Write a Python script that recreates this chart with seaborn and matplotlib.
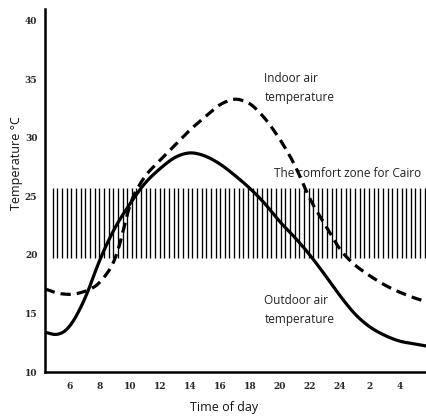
import numpy as np
import pandas as pd
import matplotlib
matplotlib.use("Agg")
import matplotlib.pyplot as plt
import seaborn as sns

# Hours of the day (values past 24 are the early hours of the next day)
hours = [4.33, 5.2, 6, 7, 8, 9, 10, 11, 12, 13, 14, 15, 16, 17, 18, 19, 20,
         21, 22, 23, 24, 25, 26, 27, 28, 29, 29.8]
outdoor_temp = [13.4, 13.1, 13.8, 16.2, 19.7, 22.4, 24.4, 26.2, 27.4, 28.4,
                28.8, 28.5, 27.8, 26.8, 25.7, 24.4, 22.8, 21.5, 20.0, 18.3,
                16.5, 14.9, 13.8, 13.1, 12.6, 12.4, 12.2]

indoor_hours = [4.33, 5.2, 6.2, 7.3, 8, 9, 9.5, 10, 11, 12, 13, 14, 15, 16,
                17, 18, 19, 20, 21, 22, 23, 24, 25, 26, 27, 28, 29, 29.8]
indoor_temp = [17.1, 16.7, 16.6, 17.0, 17.6, 19.4, 21.8, 24.6, 26.8, 28.1,
               29.4, 30.7, 31.8, 32.9, 33.4, 33.0, 31.7, 29.9, 27.7, 24.7,
               22.6, 20.4, 19.1, 18.2, 17.4, 16.8, 16.3, 16.0]

comfort_low, comfort_high = 19.75, 25.7

x_ticks = [6, 8, 10, 12, 14, 16, 18, 20, 22, 24, 26, 28]
x_tick_labels = ["6", "8", "10", "12", "14", "16", "18", "20", "22", "24", "2", "4"]
y_ticks = [10, 15, 20, 25, 30, 35, 40]

sns.set_theme(style="white")
plt.rcParams["font.family"] = ["Open Sans", "DejaVu Sans"]

fig = plt.figure(figsize=(4.27, 4.18), dpi=100)
ax = fig.add_axes([0.1054, 0.110, 0.8946, 0.868])

# Comfort zone drawn as a band of fine vertical strokes
stripe_x = np.arange(4.85, 29.75, 0.31)
ax.vlines(stripe_x, comfort_low, comfort_high, colors="black", linewidth=0.95, zorder=1)


def smooth(hrs, temps, window=0.9):
    """Densely interpolate the readings and soften the corners with a moving average."""
    x = np.asarray(hrs, float)
    y = np.asarray(temps, float)
    step = 0.02
    xs = np.arange(x[0], x[-1] + step / 2, step)
    ys = np.interp(xs, x, y)
    n = int(window / step) | 1
    pad = n // 2
    # extend linearly at both ends so the edges keep their slope
    left = ys[0] - (ys[1] - ys[0]) * np.arange(pad, 0, -1)
    right = ys[-1] + (ys[-1] - ys[-2]) * np.arange(1, pad + 1)
    ext = np.concatenate([left, ys, right])
    kernel = np.ones(n) / n
    ys_s = np.convolve(ext, kernel, mode="valid")
    return pd.DataFrame({"hour": xs, "temp": ys_s})


sns.lineplot(data=smooth(hours, outdoor_temp), x="hour", y="temp", ax=ax,
             color="black", linewidth=2.3, zorder=3, sort=False)
sns.lineplot(data=smooth(indoor_hours, indoor_temp, 0.8), x="hour", y="temp", ax=ax,
             color="black", linewidth=2.3, linestyle=(0, (3.2, 1.9)), zorder=3,
             sort=False)

ax.set_xlim(4.33, 29.8)
ax.set_ylim(10, 41)

for side in ["top", "right"]:
    ax.spines[side].set_visible(False)
for side in ["left", "bottom"]:
    ax.spines[side].set_linewidth(1.8)
    ax.spines[side].set_color("black")

ax.set_xticks(x_ticks)
ax.set_xticklabels(x_tick_labels, family="DejaVu Serif", fontsize=6.5, fontweight="bold")
ax.set_yticks(y_ticks)
ax.set_yticklabels([str(v) for v in y_ticks], family="DejaVu Serif", fontsize=6.5,
                   fontweight="bold")
ax.tick_params(axis="both", direction="inout", length=7, width=1.2, color="black", pad=2)
ax.tick_params(axis="x", pad=4)

ax.set_xlabel("Time of day", fontsize=9, color="#111111")
ax.xaxis.set_label_coords(0.47, -0.08)
ax.set_ylabel("Temperature °C", fontsize=9, color="#111111")
ax.yaxis.set_label_coords(-0.058, 0.575)

ax.text(18.95, 34.25, "Indoor air\ntemperature", fontsize=8.5, linespacing=1.55,
        ha="left", va="center", color="#222222")
ax.text(19.6, 27.0, "The comfort zone for Cairo", fontsize=8.5, ha="left",
        va="center", color="#222222")
ax.text(18.95, 15.3, "Outdoor air\ntemperature", fontsize=8.5, linespacing=1.55,
        ha="left", va="center", color="#222222")

fig.savefig("out.png", dpi=100)
